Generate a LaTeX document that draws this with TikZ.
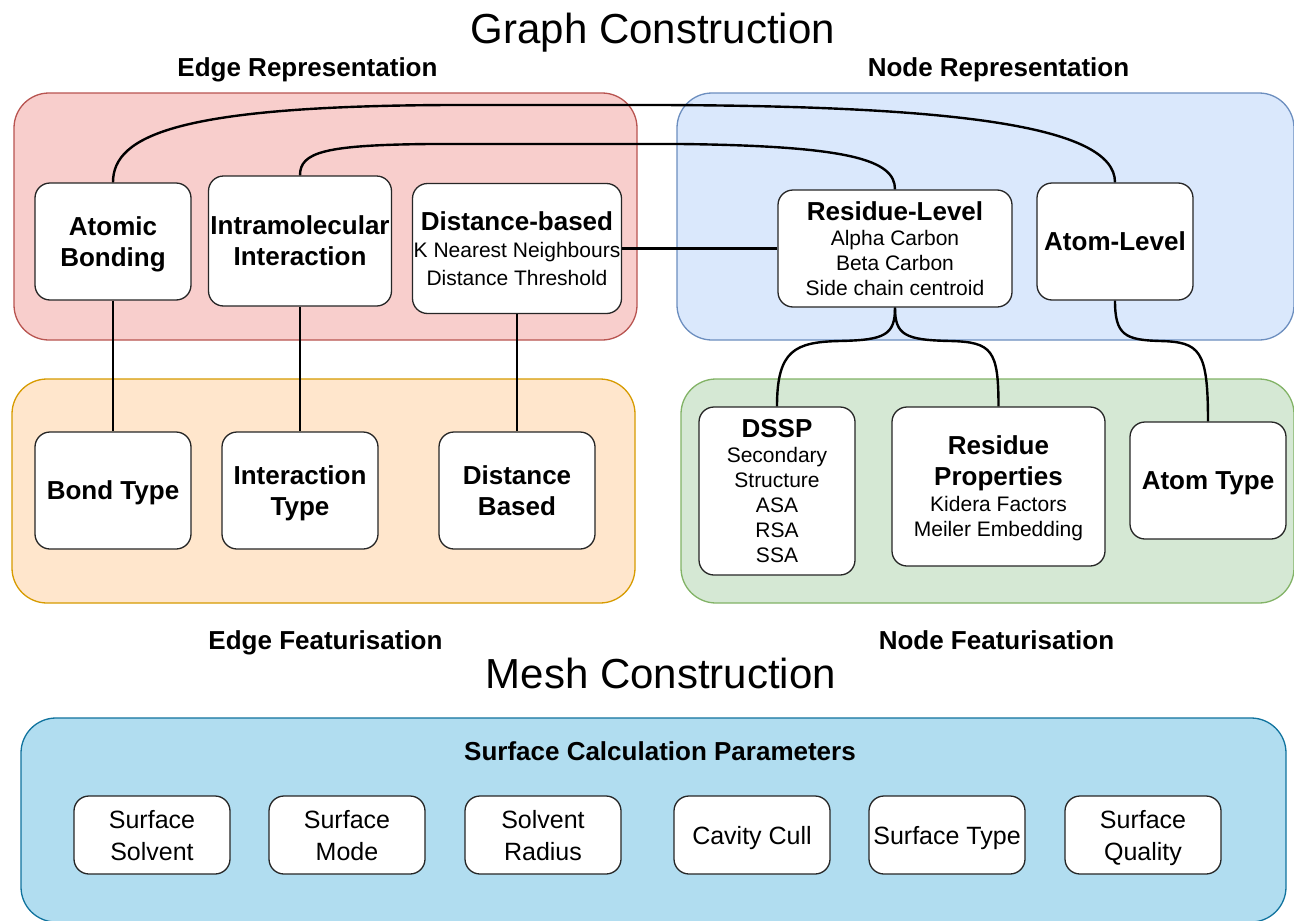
\documentclass[tikz,border=0pt]{standalone}
\usepackage{fontspec}
\setmainfont{Liberation Sans}
\definecolor{redF}{HTML}{F8CECC}\definecolor{redD}{HTML}{B85450}
\definecolor{bluF}{HTML}{DAE8FC}\definecolor{bluD}{HTML}{6C8EBF}
\definecolor{orgF}{HTML}{FFE6CC}\definecolor{orgD}{HTML}{D79B00}
\definecolor{grnF}{HTML}{D5E8D4}\definecolor{grnD}{HTML}{82B366}
\definecolor{mshF}{HTML}{B1DDF0}\definecolor{mshD}{HTML}{10739E}
\begin{document}
\begin{tikzpicture}[x=1pt,y=-1pt,
  grp/.style={line width=1.3pt, rounded corners=35pt, inner sep=0pt},
  box/.style={draw=black!85, fill=white, line width=1.3pt, rounded corners=15pt,
    align=center, inner sep=0pt, text depth=0pt, minimum width=156pt, minimum height=117pt},
  bigl/.style={font=\bfseries\fontsize{26}{31}\selectfont},
  smal/.style={font=\fontsize{21}{25}\selectfont},
  mesh/.style={box, minimum height=78pt, font=\fontsize{25}{32}\selectfont},
  head/.style={font=\bfseries\fontsize{26}{31}\selectfont, anchor=base},
  ttl/.style={font=\fontsize{42}{50}\selectfont, anchor=base},
  conn/.style={line width=2.4pt, black}
]
\useasboundingbox (0,0) rectangle (1294,921);
\fill[white] (0,0) rectangle (1294,921);

% groups
\node[grp, draw=redD, fill=redF, minimum width=623pt, minimum height=247pt] (gER) at (325.5,216.5) {};
\node[grp, draw=bluD, fill=bluF, minimum width=617pt, minimum height=247pt] (gNR) at (985.5,216.5) {};
\node[grp, draw=orgD, fill=orgF, minimum width=623pt, minimum height=224pt] (gEF) at (323.5,491) {};
\node[grp, draw=grnD, fill=grnF, minimum width=613pt, minimum height=224pt] (gNF) at (987.5,491) {};
\node[grp, draw=mshD, fill=mshF, minimum width=1265pt, minimum height=204pt] (gM) at (653.5,820) {};

% titles
\node[ttl] (t1) at (653,43) {Graph Construction};
\node[ttl] (t2) at (661,688) {Mesh Construction};
\node[head] (h1) at (307.5,76) {Edge Representation};
\node[head] (h2) at (998.5,76) {Node Representation};
\node[head] (h3) at (325.5,649) {Edge Featurisation};
\node[head] (h4) at (996.5,649) {Node Featurisation};
\node[head] (h5) at (660,760) {Surface Calculation Parameters};

% edge representation
\node[box, bigl] (ab) at (113,241.5) {Atomic\\Bonding};
\node[box, bigl, minimum width=183pt, minimum height=130pt] (ia) at (300,241) {Intramolecular\\Interaction};
\node[box, smal, minimum width=209pt, minimum height=130pt] (db) at (517,248.5)
  {{\bfseries\fontsize{26}{31}\selectfont Distance-based}\\[2pt]K Nearest Neighbours\\[3pt]Distance Threshold};
% node representation
\node[box, smal, minimum width=234pt, minimum height=117pt] (rl) at (895,248.5)
  {{\bfseries\fontsize{26}{31}\selectfont Residue-Level}\\Alpha Carbon\\Beta Carbon\\Side chain centroid};
\node[box, bigl] (al) at (1115,241.5) {Atom-Level};
% edge featurisation
\node[box, bigl] (bt) at (113,490.5) {Bond Type};
\node[box, bigl] (it) at (300,490.5) {Interaction\\Type};
\node[box, bigl] (dbt) at (517,490.5) {Distance\\Based};
% node featurisation
\node[box, smal, minimum height=168pt, text depth=-3pt] (dssp) at (777,491)
  {{\bfseries\fontsize{26}{31}\selectfont DSSP}\\Secondary\\Structure\\ASA\\RSA\\SSA};
\node[box, smal, minimum width=213pt, minimum height=159pt, text depth=-6pt] (rp) at (998.5,486.5)
  {{\bfseries\fontsize{26}{31}\selectfont Residue}\\[6pt]{\bfseries\fontsize{26}{31}\selectfont Properties}\\[1pt]Kidera Factors\\Meiler Embedding};
\node[box, bigl] (at) at (1208,480.5) {Atom Type};
% mesh
\node[mesh] (m1) at (152,835) {Surface\\Solvent};
\node[mesh] (m2) at (347,835) {Surface\\Mode};
\node[mesh] (m3) at (543,835) {Solvent\\Radius};
\node[mesh] (m4) at (752,835) {Cavity Cull};
\node[mesh] (m5) at (947,835) {Surface Type};
\node[mesh] (m6) at (1143,835) {Surface\\Quality};

% connectors
\draw[conn] (ab.north) .. controls (113,135) and (180,106) .. (450,105) -- (660,105)
  .. controls (950,106) and (1115,125) .. (al.north);
\draw[conn] (ia.north) .. controls (300,152) and (325,145) .. (430,144) -- (680,144)
  .. controls (850,146) and (895,160) .. (rl.north);
\draw[conn] (db.east) -- (rl.west);
\draw[conn] (rl.south) .. controls (895,335) and (885,340) .. (840,341)
  .. controls (795,342) and (777,350) .. (dssp.north);
\draw[conn] (rl.south) .. controls (895,335) and (905,340) .. (950,341)
  .. controls (992,342) and (998.5,350) .. (rp.north);
\draw[conn] (al.south) .. controls (1115,335) and (1125,340) .. (1160,341)
  .. controls (1200,342) and (1208,350) .. (at.north);
\draw[conn] (ab.south) -- (bt.north);
\draw[conn] (ia.south) -- (it.north);
\draw[conn] (db.south) -- (dbt.north);
\end{tikzpicture}
\end{document}
